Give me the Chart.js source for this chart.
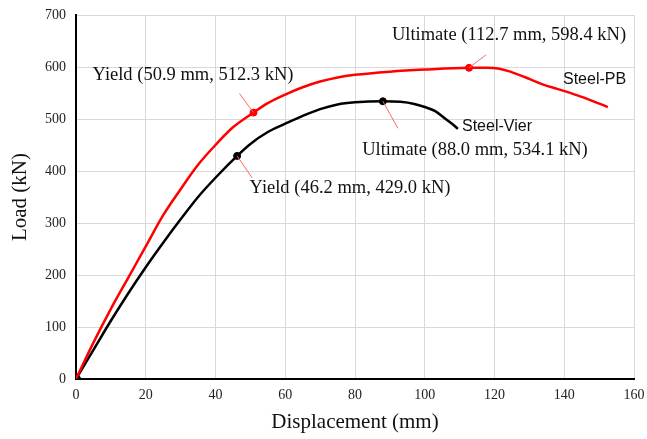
<!DOCTYPE html>
<html>
<head>
<meta charset="utf-8">
<script src="https://cdn.jsdelivr.net/npm/chart.js@4.4.1/dist/chart.umd.min.js"></script>
<style>
  html, body { margin: 0; padding: 0; background: #fff; }
  #wrap { width: 647px; height: 439px; }
</style>
</head>
<body>
<div id="wrap"><canvas id="loadChart"></canvas></div>
<script>
// displacement (mm) / load (kN)
const pbDisp = [0, 5, 10, 15, 20, 25, 30, 35, 40, 45, 50.9, 55, 60, 65, 70, 75, 80, 90, 100, 112.7, 118, 121, 124, 127, 130, 134, 138, 144, 148, 152.5];
const pbLoad = [0, 70, 135, 195, 255, 315, 365, 412, 450, 484, 512.3, 530.5, 547, 561, 572, 580, 585, 591, 595, 598.4, 598.5, 597, 592, 585, 577, 566, 558, 545, 535, 523];

const vierDisp = [0, 5, 10, 15, 20, 25, 30, 35, 40, 46.2, 50, 55, 60, 65, 70, 75, 80, 88, 93, 97, 100, 103, 106, 108, 109.5];
const vierLoad = [0, 56, 112, 165, 215, 262, 307, 350, 387, 429, 452, 475, 491, 506, 519, 528, 532, 534.1, 533, 529, 523, 515, 500, 490, 481];

// yield / ultimate points
const pbYield = [50.9, 512.3];
const pbUlt = [112.7, 598.4];
const vierYield = [46.2, 429.0];
const vierUlt = [88.0, 534.1];

const xTicks = [0, 20, 40, 60, 80, 100, 120, 140, 160];
const yTicks = [0, 100, 200, 300, 400, 500, 600, 700];

function toXY(xs, ys) {
  return xs.map((x, i) => ({ x: x, y: ys[i] }));
}

// leader lines + labels for the marked points (offsets in px)
const notes = [
  { pt: pbYield, dx: -14, dy: -19, text: 'Yield (50.9 mm, 512.3 kN)', tx: 193, ty: 75 },
  { pt: vierYield, dx: 15, dy: 22, text: 'Yield (46.2 mm, 429.0 kN)', tx: 350, ty: 188 },
  { pt: vierUlt, dx: 15, dy: 27, text: 'Ultimate (88.0 mm, 534.1 kN)', tx: 475, ty: 150 },
  { pt: pbUlt, dx: 17, dy: -13, text: 'Ultimate (112.7 mm, 598.4 kN)', tx: 509, ty: 35 }
];

const notePlugin = {
  id: 'notes',
  afterDatasetsDraw(chart) {
    const ctx = chart.ctx;
    const xs = chart.scales.x, ys = chart.scales.y;
    ctx.save();
    notes.forEach(n => {
      const px = xs.getPixelForValue(n.pt[0]);
      const py = ys.getPixelForValue(n.pt[1]);
      ctx.strokeStyle = '#ff6666';
      ctx.lineWidth = 1;
      ctx.beginPath();
      ctx.moveTo(px, py);
      ctx.lineTo(px + n.dx, py + n.dy);
      ctx.stroke();
      ctx.fillStyle = '#111';
      ctx.font = '18.5px "Liberation Serif"';
      ctx.textAlign = 'center';
      ctx.textBaseline = 'middle';
      ctx.fillText(n.text, n.tx, n.ty);
    });
    ctx.font = '16px "Liberation Sans"';
    ctx.textAlign = 'left';
    ctx.fillText('Steel-PB', 563, 80);
    ctx.fillText('Steel-Vier', 462, 127);
    ctx.restore();
  }
};

new Chart(document.getElementById('loadChart'), {
  type: 'scatter',
  data: {
    datasets: [
      {
        label: 'Steel-PB',
        data: toXY(pbDisp, pbLoad),
        showLine: true,
        borderColor: '#ff0000',
        borderWidth: 2.5,
        pointRadius: 0,
        cubicInterpolationMode: 'monotone'
      },
      {
        label: 'Steel-Vier',
        data: toXY(vierDisp, vierLoad),
        showLine: true,
        borderColor: '#000000',
        borderWidth: 2.5,
        pointRadius: 0,
        cubicInterpolationMode: 'monotone'
      },
      {
        label: 'PB points',
        data: [{ x: pbYield[0], y: pbYield[1] }, { x: pbUlt[0], y: pbUlt[1] }],
        backgroundColor: '#ff0000',
        borderColor: '#ff0000',
        pointRadius: 3.5
      },
      {
        label: 'Vier points',
        data: [{ x: 0, y: 0 }, { x: vierYield[0], y: vierYield[1] }, { x: vierUlt[0], y: vierUlt[1] }],
        backgroundColor: '#000',
        borderColor: '#000',
        pointRadius: [4.5, 3.5, 3.5]
      }
    ]
  },
  options: {
    responsive: true,
    maintainAspectRatio: false,
    animation: false,
    layout: { padding: 0 },
    plugins: {
      legend: { display: false },
      tooltip: { enabled: false }
    },
    scales: {
      x: {
        type: 'linear',
        min: 0,
        max: 160,
        afterBuildTicks: s => { s.ticks = xTicks.map(v => ({ value: v })); },
        afterFit: s => { s.height = 60; s.paddingLeft = 0; s.paddingRight = 13; },
        grid: { color: '#d9d9d9', drawTicks: false },
        border: { color: '#000', width: 2 },
        ticks: { color: '#222', padding: 8, font: { family: 'Liberation Serif', size: 14 } },
        title: {
          display: true,
          text: 'Displacement (mm)',
          color: '#111',
          padding: { top: 6 },
          font: { family: 'Liberation Serif', size: 21 }
        }
      },
      y: {
        type: 'linear',
        min: 0,
        max: 700,
        afterBuildTicks: s => { s.ticks = yTicks.map(v => ({ value: v })); },
        afterFit: s => { s.width = 76; s.paddingTop = 15; s.paddingBottom = 0; },
        grid: { color: '#d9d9d9', drawTicks: false },
        border: { color: '#000', width: 2 },
        ticks: { color: '#222', padding: 10, font: { family: 'Liberation Serif', size: 14 } },
        title: {
          display: true,
          text: 'Load (kN)',
          color: '#111',
          padding: { top: 8, bottom: 4 },
          font: { family: 'Liberation Serif', size: 21 }
        }
      }
    }
  },
  plugins: [notePlugin]
});
</script>
</body>
</html>
